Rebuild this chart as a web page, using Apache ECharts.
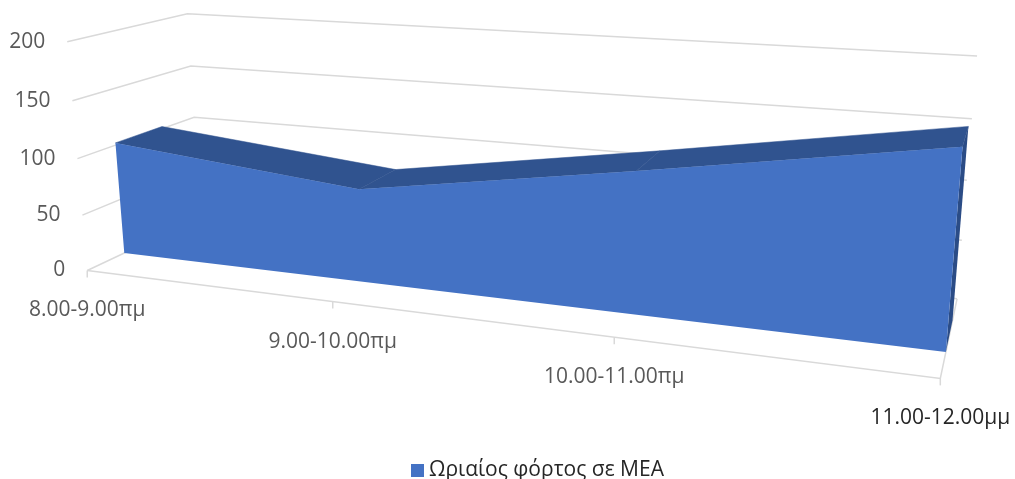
<!DOCTYPE html>
<html>
<head>
<meta charset="utf-8">
<script src="https://cdn.jsdelivr.net/npm/echarts@6/dist/echarts.min.js"></script>
<style>
html, body { margin: 0; padding: 0; background: #fff; }
#main { width: 1015px; height: 479px; }
</style>
</head>
<body>
<div id="main"></div>
<script>
var categories = ['8.00-9.00πμ', '9.00-10.00πμ', '10.00-11.00πμ', '11.00-12.00μμ'];
var loadValues = [102, 81, 117, 155];
var yTicks = [0, 50, 100, 150, 200];
var seriesName = 'Ωριαίος φόρτος σε ΜΕΑ';

// frame of the 3d box: [u, h, depth] -> screen point, used to fit the camera
var frameAnchors = [
	[0, 1, 0, 67, 42], [0, .75, 0, 73, 100], [0, .5, 0, 77, 158], [0, .25, 0, 82, 214], [0, 0, 0, 88, 270],
	[0, 1, 1, 188, 14], [0, .75, 1, 190, 67], [0, .5, 1, 194, 117],
	[1, 1, 1, 977, 56], [1, .75, 1, 972, 119], [1, .5, 1, 967, 180], [1, .25, 1, 962, 240], [1, 0, 1, 957, 298],
	[1 / 3, 0, 0, 333, 303], [2 / 3, 0, 0, 614, 340], [1, 0, 0, 940, 377]
];
var DEPTH_FRONT = 0.3, DEPTH_BACK = 0.7;
var FONT = '"Open Sans", "Noto Sans", sans-serif';

function fitCamera(pairs) {
	var n = 11, S = 1000, i, j, k;
	var M = [], B = [];
	for (i = 0; i < n; i++) { M.push(new Array(n).fill(0)); B.push(0); }
	function add(r, b) {
		for (var a = 0; a < n; a++) {
			B[a] += r[a] * b;
			for (var c = 0; c < n; c++) M[a][c] += r[a] * r[c];
		}
	}
	pairs.forEach(function(p) {
		var X = p[0], Y = p[1], Z = p[2], x = p[3] / S, y = p[4] / S;
		add([X, Y, Z, 1, 0, 0, 0, 0, -x * X, -x * Y, -x * Z], x);
		add([0, 0, 0, 0, X, Y, Z, 1, -y * X, -y * Y, -y * Z], y);
	});
	for (i = 0; i < n; i++) {
		var piv = i;
		for (j = i + 1; j < n; j++) if (Math.abs(M[j][i]) > Math.abs(M[piv][i])) piv = j;
		var t = M[i]; M[i] = M[piv]; M[piv] = t;
		t = B[i]; B[i] = B[piv]; B[piv] = t;
		for (j = i + 1; j < n; j++) {
			var f = M[j][i] / M[i][i];
			for (k = i; k < n; k++) M[j][k] -= f * M[i][k];
			B[j] -= f * B[i];
		}
	}
	var p = new Array(n).fill(0);
	for (i = n - 1; i >= 0; i--) {
		var s = B[i];
		for (k = i + 1; k < n; k++) s -= M[i][k] * p[k];
		p[i] = s / M[i][i];
	}
	return function(u, h, d) {
		var w = p[8] * u + p[9] * h + p[10] * d + 1;
		return [S * (p[0] * u + p[1] * h + p[2] * d + p[3]) / w, S * (p[4] * u + p[5] * h + p[6] * d + p[7]) / w];
	};
}
var P = fitCamera(frameAnchors);

// hidden cartesian grid turns values into unit coordinates
function toUnit(params, pt) {
	var cs = params.coordSys;
	return [(pt[0] - cs.x) / cs.width, (cs.y + cs.height - pt[1]) / cs.height];
}

var gridStyle = { stroke: '#d9d9d9', lineWidth: 1.5, fill: null };

function renderWall(params, api) {
	var uv = toUnit(params, api.coord([0, api.value(1)]));
	var h = uv[1];
	var children = [{
		type: 'polyline',
		shape: { points: [P(0, h, 0), P(0, h, 1), P(1, h, 1)] },
		style: gridStyle
	}];
	if (api.value(1) === 0) {
		children.push({
			type: 'polyline',
			shape: { points: [P(0, 0, 0), P(1, 0, 0), P(1, 0, 1)] },
			style: gridStyle
		});
	}
	var a = P(0, h, 0);
	children.push({
		type: 'text',
		style: {
			x: a[0] - 22, y: a[1], text: String(api.value(1)),
			align: 'right', verticalAlign: 'middle',
			fill: '#595959', font: '21px ' + FONT
		}
	});
	return { type: 'group', children: children };
}

function renderCategory(params, api) {
	var i = params.dataIndex;
	var u = toUnit(params, api.coord([api.value(0), 0]))[0];
	var a = P(u, 0, 0);
	return {
		type: 'group',
		children: [{
			type: 'line',
			shape: { x1: a[0], y1: a[1], x2: a[0], y2: a[1] + 7 },
			style: gridStyle
		}, {
			type: 'text',
			style: {
				x: a[0], y: a[1] + 40, text: categories[i],
				align: 'center', verticalAlign: 'middle',
				fill: i === categories.length - 1 ? '#262626' : '#595959',
				font: '21px ' + FONT
			}
		}]
	};
}

function renderArea(params, api) {
	var i = params.dataIndex;
	var n = loadValues.length;
	var pts = loadValues.map(function(v, k) { return toUnit(params, api.coord([k, v])); });
	var children = [];
	if (i < n - 1) {
		var a = pts[i], b = pts[i + 1];
		children.push({
			type: 'polygon', z2: 1,
			shape: { points: [P(a[0], a[1], DEPTH_FRONT), P(b[0], b[1], DEPTH_FRONT), P(b[0], b[1], DEPTH_BACK), P(a[0], a[1], DEPTH_BACK)] },
			style: { fill: '#30538f', stroke: '#30538f', lineWidth: 0.5 }
		});
	} else {
		var last = pts[n - 1];
		children.push({
			type: 'polygon', z2: 2,
			shape: { points: [P(1, 0, DEPTH_FRONT), P(1, last[1], DEPTH_FRONT), P(1, last[1], DEPTH_BACK), P(1, 0, DEPTH_BACK)] },
			style: { fill: '#2b4c86' }
		});
		var front = [P(pts[0][0], 0, DEPTH_FRONT)];
		pts.forEach(function(q) { front.push(P(q[0], q[1], DEPTH_FRONT)); });
		front.push(P(pts[n - 1][0], 0, DEPTH_FRONT));
		children.push({
			type: 'polygon', z2: 3,
			shape: { points: front },
			style: { fill: '#4472c4' }
		});
	}
	return { type: 'group', children: children };
}

var chart = echarts.init(document.getElementById('main'));
chart.setOption({
	animation: false,
	grid: { left: 100, top: 100, width: 300, height: 200, show: false },
	xAxis: { type: 'category', data: categories, boundaryGap: false, show: false },
	yAxis: { type: 'value', min: 0, max: 200, interval: 50, show: false },
	legend: {
		data: [seriesName],
		left: 406, top: 455,
		icon: 'rect', itemWidth: 13, itemHeight: 13, itemGap: 10,
		textStyle: { color: '#262626', fontSize: 21, fontFamily: FONT }
	},
	series: [{
		type: 'custom', name: 'walls', z: 1, silent: true,
		renderItem: renderWall,
		data: yTicks.map(function(v) { return [0, v]; })
	}, {
		type: 'custom', name: 'categories', z: 1, silent: true,
		renderItem: renderCategory,
		data: categories.map(function(c, i) { return [i, 0]; })
	}, {
		type: 'custom', name: seriesName, z: 2, silent: true,
		itemStyle: { color: '#4472c4' },
		renderItem: renderArea,
		data: loadValues.map(function(v, i) { return [i, v]; })
	}]
});
</script>
</body>
</html>
